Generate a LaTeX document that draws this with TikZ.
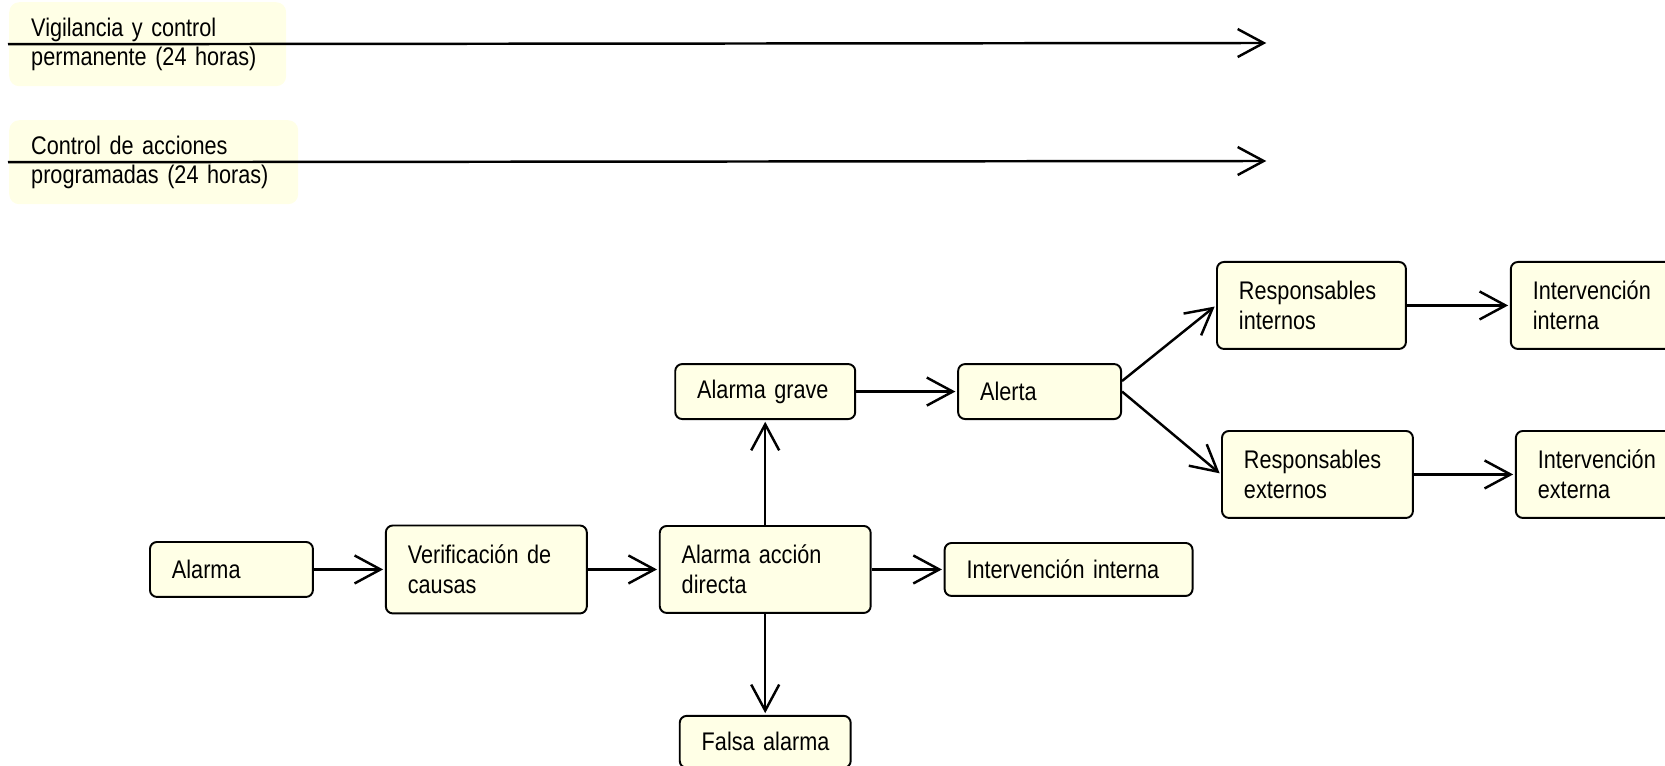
\documentclass[tikz,border=0pt]{standalone}
\usepackage{fontspec}
\setmainfont{Liberation Sans}[FakeStretch=0.85,WordSpace=0.8]
\usetikzlibrary{arrows.meta,positioning}
\definecolor{boxfill}{RGB}{255,255,230}

\begin{document}
\begin{tikzpicture}[x=0.02cm,y=-0.02cm,->,>={Straight Barb[length=0.52cm,width=0.56cm]},shorten >=1pt,line width=1.4pt,font=\fontsize{14.5}{16.8}\selectfont,
    block/.style = {rounded corners=0.14cm, draw, line width=1.1pt, fill=boxfill, align=left, inner xsep=0.44cm, inner ysep=0pt, anchor=north west},
    band/.style = {rounded corners=0.2cm, fill=boxfill, align=left, inner xsep=0.44cm, inner ysep=0pt, anchor=north west, minimum height=1.68cm}]
            \useasboundingbox (0,0) rectangle (1665,766);
            \node[band,text width=4.66cm](vig) at (8,1) {Vigilancia y control\\permanente (24 horas)};
            \node[band,text width=4.9cm](prog) at (8,119) {Control de acciones\\programadas (24 horas)};
            \coordinate (vigend) at (1268,43);
            \coordinate (progend) at (1268,161);
            \node[block,text width=2.38cm,minimum height=1.1cm](alarma) at (149,541) {Alarma};
            \node[block,text width=3.14cm,minimum height=1.76cm,right=1.42cm of alarma](verif) {Verificación de\\causas};
            \node[block,text width=3.34cm,minimum height=1.74cm,right=1.42cm of verif](directa) {Alarma acción\\directa};
            \node[block,text width=4.08cm,minimum height=1.06cm,right=1.44cm of directa](intmid) {Intervención interna};
            \node[block,text width=2.72cm,minimum height=1.1cm,above=2.1cm of directa](grave) {Alarma grave};
            \node[block,text width=2.54cm,minimum height=1.04cm,below=2.02cm of directa](falsa) {Falsa~alarma};
            \node[block,text width=2.38cm,minimum height=1.1cm,right=2.02cm of grave](alerta) {Alerta};
            \node[block,text width=2.9cm,minimum height=1.74cm](respint) at (1216,261) {Responsables\\internos};
            \node[block,text width=2.94cm,minimum height=1.74cm](respext) at (1221,430) {Responsables\\externos};
            \node[block,text width=2.96cm,minimum height=1.74cm,right=2.06cm of respint](intint) {Intervención\\interna};
            \node[block,text width=2.96cm,minimum height=1.74cm,right=2.02cm of respext](intext) {Intervención\\externa};
            \path (vig.west) edge (vigend)
                        (prog.west) edge (progend)
                        (alarma) edge (verif)
                        (verif) edge (directa)
                        (directa) edge (intmid)
                        (directa) edge (grave)
                        (directa) edge (falsa)
                        (grave) edge (alerta)
                        ([yshift=6pt]alerta.east) edge (respint.west)
                        (alerta.east) edge (respext.west)
                        (respint) edge (intint)
                        (respext) edge (intext);
    \end{tikzpicture}
\end{document}
